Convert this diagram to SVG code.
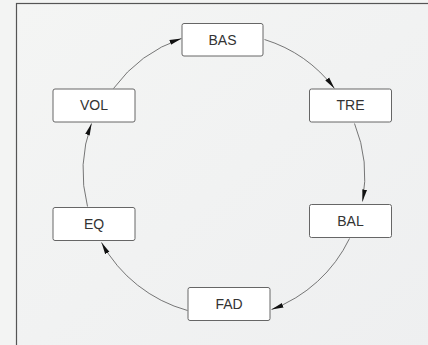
<svg xmlns="http://www.w3.org/2000/svg" width="428" height="345" viewBox="0 0 428 345">
<defs>
<linearGradient id="bg" x1="0" y1="0" x2="1" y2="1">
<stop offset="0" stop-color="#f4f5f4"/>
<stop offset="1" stop-color="#eeeff0"/>
</linearGradient>
<marker id="ah" viewBox="0 0 12 6" refX="12" refY="3" markerWidth="12" markerHeight="6" markerUnits="userSpaceOnUse" orient="auto">
<path d="M0,0.6 L12,3 L0,5.4 Z" fill="#111"/>
</marker>
<style>
.box{fill:#fff;stroke:#666;stroke-width:1}
.lbl{font-family:"Liberation Sans",Arial,sans-serif;font-size:14px;fill:#333;text-anchor:middle;dominant-baseline:central}
.cn{fill:none;stroke:#555;stroke-width:0.8;marker-end:url(#ah)}
</style>
</defs>
<rect x="0" y="0" width="428" height="345" fill="#f3f4f3"/>
<rect x="16.5" y="3.5" width="420" height="350" fill="url(#bg)" stroke="#555" stroke-width="1.2"/>
<g id="connectors">
<path class="cn" d="M264.5,39.5 A141,141 0 0 1 334.5,88.5"/>
<path class="cn" d="M354.5,123.5 A141,141 0 0 1 362.5,201.5"/>
<path class="cn" d="M349.5,238.5 A141,141 0 0 1 271.5,309.5"/>
<path class="cn" d="M187.5,310.5 A141,141 0 0 1 101.5,242.5"/>
<path class="cn" d="M87.5,206.5 A141,141 0 0 1 91.5,123.5"/>
<path class="cn" d="M113.5,88.5 A141,141 0 0 1 181.5,38.5"/>
</g>
<g id="BAS"><rect class="box" x="182" y="23.5" width="81" height="32.5" rx="2"/><text class="lbl" x="222.5" y="39.5">BAS</text></g>
<g id="TRE"><rect class="box" x="309.5" y="89" width="82" height="33" rx="2"/><text class="lbl" x="350.5" y="105">TRE</text></g>
<g id="BAL"><rect class="box" x="309.5" y="204.5" width="82" height="33" rx="2"/><text class="lbl" x="350.5" y="220.5">BAL</text></g>
<g id="FAD"><rect class="box" x="188" y="287.5" width="82" height="33" rx="2"/><text class="lbl" x="229" y="303.5">FAD</text></g>
<g id="EQ"><rect class="box" x="53" y="207.5" width="82" height="33" rx="2"/><text class="lbl" x="94" y="223.5">EQ</text></g>
<g id="VOL"><rect class="box" x="53" y="89" width="82" height="33" rx="2"/><text class="lbl" x="94" y="105">VOL</text></g>
</svg>
